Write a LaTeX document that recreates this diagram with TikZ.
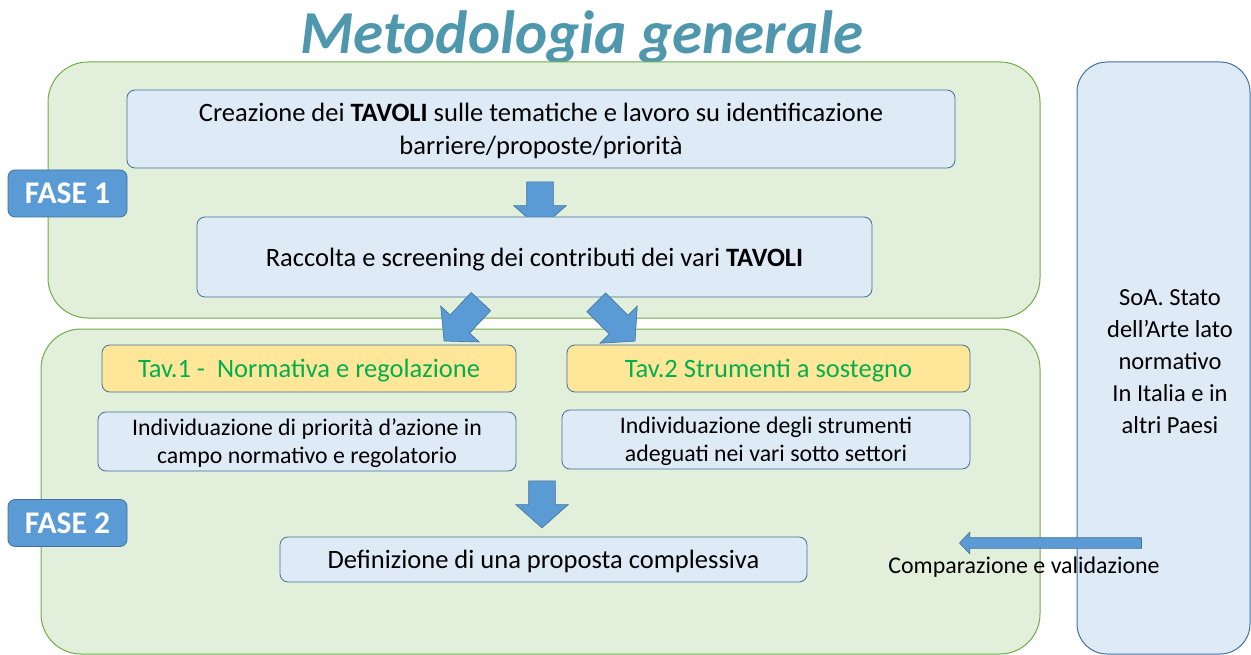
\documentclass[tikz,border=0pt]{standalone}
\usepackage{fontspec}
\setmainfont{Carlito}
\usetikzlibrary{shapes.arrows}
\definecolor{gfill}{HTML}{E2EFDA}
\definecolor{gline}{HTML}{70AD47}
\definecolor{bfill}{HTML}{DEEBF7}
\definecolor{bline}{HTML}{41719C}
\definecolor{afill}{HTML}{5B9BD5}
\definecolor{yfill}{HTML}{FFE699}
\definecolor{tgreen}{HTML}{00B050}
\definecolor{ttl}{HTML}{4E97AD}
\tikzset{
  phase/.style={draw=gline, fill=gfill, line width=1pt, rounded corners=40pt},
  lbox/.style={draw=bline, fill=bfill, line width=0.8pt, rounded corners=8pt, inner sep=0pt, align=center, text depth=0pt},
  ybox/.style={draw=bline, fill=yfill, line width=0.8pt, rounded corners=8pt, inner sep=0pt, align=center, text=tgreen, text depth=0pt},
  faselbl/.style={draw=bline, fill=afill, line width=0.8pt, rounded corners=7pt, minimum width=119pt, minimum height=47pt, inner sep=0pt, text=white, font=\fontsize{31.5}{34}\selectfont\bfseries},
  barrow/.style={shape=single arrow, draw=bline, fill=afill, line width=0.6pt, inner sep=0pt, single arrow head extend=13pt, single arrow tip angle=97},
}
\newcommand{\shaft}[1]{\rule{0pt}{#1}}
\begin{document}
\begin{tikzpicture}[x=1pt,y=-1pt]
\useasboundingbox (0,0) rectangle (1251,655);
% title
\node[font=\fontsize{61}{66}\selectfont\bfseries\itshape, text=ttl] (title) at (582,37) {Metodologia generale};
% phase containers
\draw[phase] (48,62) rectangle (1040,318);
\draw[phase] (41,329) rectangle (1040,654);
\draw[draw=bline, fill=bfill, line width=1pt, rounded corners=30pt] (1077,62) rectangle (1250,654);
\node[align=center, font=\fontsize{24.5}{32}\selectfont] (soa) at (1170,362) {SoA. Stato\\dell’Arte lato\\normativo\\In Italia e in\\altri Paesi};
% phase 1
\node[lbox, minimum width=828pt, minimum height=78pt, font=\fontsize{26.5}{33}\selectfont] (b1) at (541,129) {Creazione dei \textbf{TAVOLI} sulle tematiche e lavoro su identificazione\\barriere/proposte/priorità};
\node[faselbl] (f1) at (67.5,193.5) {FASE 1};
\node[barrow, minimum height=47pt, rotate=-90] (a1) at (540,199.5) {\shaft{26pt}};
\node[lbox, minimum width=675pt, minimum height=80pt, font=\fontsize{26.5}{33}\selectfont] (b2) at (534.5,257) {Raccolta e screening dei contributi dei vari \textbf{TAVOLI}};
% diagonal arrows
\node[barrow, minimum height=54pt, rotate=-133] (a2) at (466.5,317) {\shaft{26pt}};
\node[barrow, minimum height=55pt, rotate=-45] (a3) at (611.5,317.5) {\shaft{26pt}};
% phase 2
\node[ybox, minimum width=414pt, minimum height=47pt, font=\fontsize{26.5}{30}\selectfont] (t1) at (309,368.5) {Tav.1 -\ \ Normativa e regolazione};
\node[ybox, minimum width=403pt, minimum height=47pt, font=\fontsize{26.5}{30}\selectfont] (t2) at (768.5,368.5) {Tav.2 Strumenti a sostegno};
\node[lbox, minimum width=418pt, minimum height=59pt, font=\fontsize{23.8}{28}\selectfont] (d1) at (307,441.5) {Individuazione di priorità d’azione in\\campo normativo e regolatorio};
\node[lbox, minimum width=408pt, minimum height=59pt, font=\fontsize{23.8}{28}\selectfont] (d2) at (766,439.5) {Individuazione degli strumenti\\adeguati nei vari sotto settori};
\node[barrow, minimum height=47pt, rotate=-90] (a4) at (542,498.5) {\shaft{26pt}};
\node[faselbl] (f2) at (67.5,523) {FASE 2};
\node[lbox, minimum width=527pt, minimum height=45pt, font=\fontsize{26.5}{30}\selectfont] (def) at (543.5,559.5) {Definizione di una proposta complessiva};
% comparison arrow
\node[shape=single arrow, draw=bline, fill=afill, line width=0.6pt, inner sep=0pt, single arrow head extend=5.5pt, single arrow tip angle=93, minimum height=182pt, rotate=180] (a5) at (1053,543) {\shaft{10pt}};
\node[font=\fontsize{23.9}{26}\selectfont, anchor=base] (cmp) at (1024,573) {Comparazione e validazione};
\end{tikzpicture}
\end{document}
